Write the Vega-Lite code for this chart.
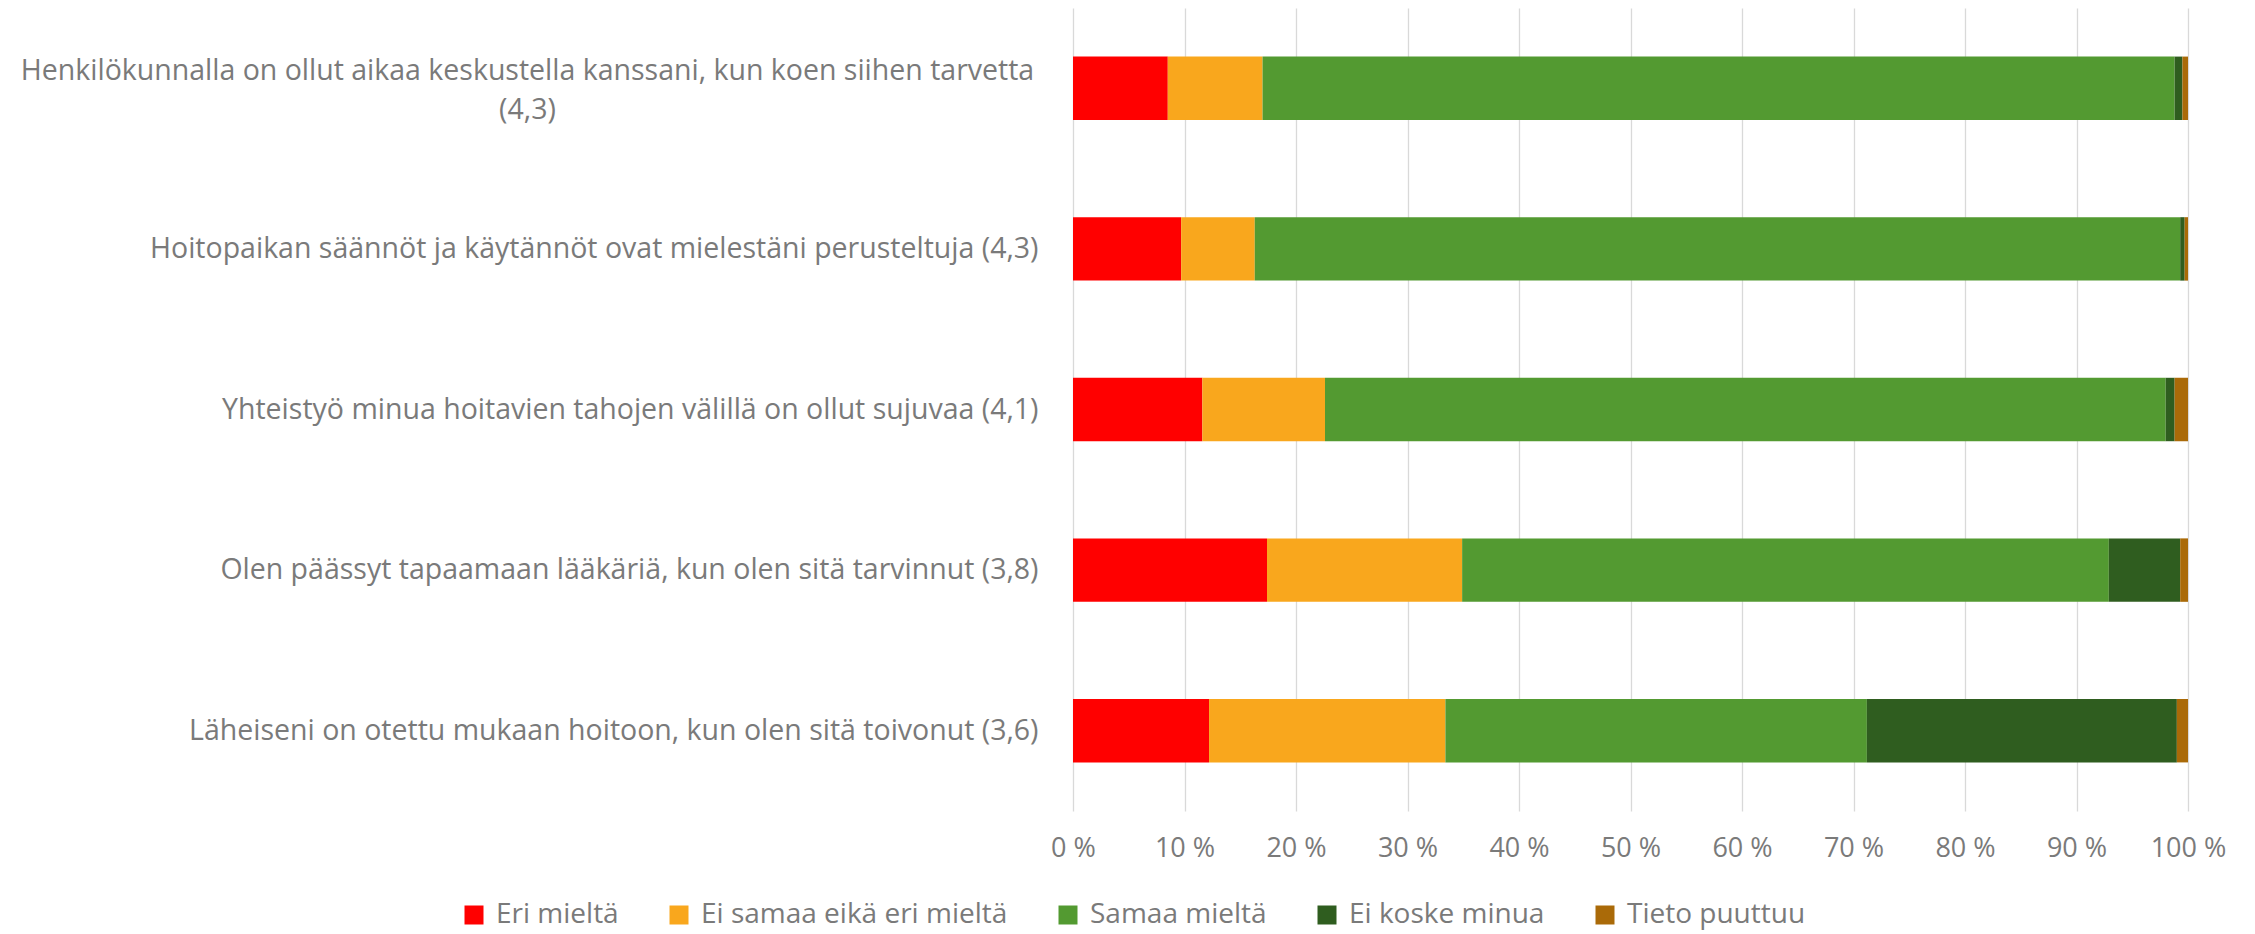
{
  "$schema": "https://vega.github.io/schema/vega-lite/v6.json",
  "width": 1115,
  "height": 803,
  "autosize": {"type": "none"},
  "padding": {"left": 1073, "top": 8, "right": 67, "bottom": 123},
  "background": "white",
  "config": {
    "view": {"stroke": null},
    "font": "Open Sans"
  },
  "data": {
    "values": [
      {"q": "Henkilökunnalla on ollut aikaa keskustella kanssani, kun koen siihen tarvetta (4,3)", "c": "Eri mieltä", "v": 8.5},
      {"q": "Henkilökunnalla on ollut aikaa keskustella kanssani, kun koen siihen tarvetta (4,3)", "c": "Ei samaa eikä eri mieltä", "v": 8.5},
      {"q": "Henkilökunnalla on ollut aikaa keskustella kanssani, kun koen siihen tarvetta (4,3)", "c": "Samaa mieltä", "v": 81.8},
      {"q": "Henkilökunnalla on ollut aikaa keskustella kanssani, kun koen siihen tarvetta (4,3)", "c": "Ei koske minua", "v": 0.7},
      {"q": "Henkilökunnalla on ollut aikaa keskustella kanssani, kun koen siihen tarvetta (4,3)", "c": "Tieto puuttuu", "v": 0.5},
      {"q": "Hoitopaikan säännöt ja käytännöt ovat mielestäni perusteltuja (4,3)", "c": "Eri mieltä", "v": 9.7},
      {"q": "Hoitopaikan säännöt ja käytännöt ovat mielestäni perusteltuja (4,3)", "c": "Ei samaa eikä eri mieltä", "v": 6.6},
      {"q": "Hoitopaikan säännöt ja käytännöt ovat mielestäni perusteltuja (4,3)", "c": "Samaa mieltä", "v": 83.0},
      {"q": "Hoitopaikan säännöt ja käytännöt ovat mielestäni perusteltuja (4,3)", "c": "Ei koske minua", "v": 0.4},
      {"q": "Hoitopaikan säännöt ja käytännöt ovat mielestäni perusteltuja (4,3)", "c": "Tieto puuttuu", "v": 0.3},
      {"q": "Yhteistyö minua hoitavien tahojen välillä on ollut sujuvaa (4,1)", "c": "Eri mieltä", "v": 11.6},
      {"q": "Yhteistyö minua hoitavien tahojen välillä on ollut sujuvaa (4,1)", "c": "Ei samaa eikä eri mieltä", "v": 11.0},
      {"q": "Yhteistyö minua hoitavien tahojen välillä on ollut sujuvaa (4,1)", "c": "Samaa mieltä", "v": 75.4},
      {"q": "Yhteistyö minua hoitavien tahojen välillä on ollut sujuvaa (4,1)", "c": "Ei koske minua", "v": 0.8},
      {"q": "Yhteistyö minua hoitavien tahojen välillä on ollut sujuvaa (4,1)", "c": "Tieto puuttuu", "v": 1.2},
      {"q": "Olen päässyt tapaamaan lääkäriä, kun olen sitä tarvinnut (3,8)", "c": "Eri mieltä", "v": 17.4},
      {"q": "Olen päässyt tapaamaan lääkäriä, kun olen sitä tarvinnut (3,8)", "c": "Ei samaa eikä eri mieltä", "v": 17.5},
      {"q": "Olen päässyt tapaamaan lääkäriä, kun olen sitä tarvinnut (3,8)", "c": "Samaa mieltä", "v": 58.0},
      {"q": "Olen päässyt tapaamaan lääkäriä, kun olen sitä tarvinnut (3,8)", "c": "Ei koske minua", "v": 6.4},
      {"q": "Olen päässyt tapaamaan lääkäriä, kun olen sitä tarvinnut (3,8)", "c": "Tieto puuttuu", "v": 0.7},
      {"q": "Läheiseni on otettu mukaan hoitoon, kun olen sitä toivonut (3,6)", "c": "Eri mieltä", "v": 12.2},
      {"q": "Läheiseni on otettu mukaan hoitoon, kun olen sitä toivonut (3,6)", "c": "Ei samaa eikä eri mieltä", "v": 21.2},
      {"q": "Läheiseni on otettu mukaan hoitoon, kun olen sitä toivonut (3,6)", "c": "Samaa mieltä", "v": 37.8},
      {"q": "Läheiseni on otettu mukaan hoitoon, kun olen sitä toivonut (3,6)", "c": "Ei koske minua", "v": 27.8},
      {"q": "Läheiseni on otettu mukaan hoitoon, kun olen sitä toivonut (3,6)", "c": "Tieto puuttuu", "v": 1.0}
    ]
  },
  "transform": [
    {"calculate": "indexof(['Eri mieltä', 'Ei samaa eikä eri mieltä', 'Samaa mieltä', 'Ei koske minua', 'Tieto puuttuu'], datum.c)", "as": "k"}
  ],
  "mark": {"type": "bar", "strokeWidth": 0},
  "encoding": {
    "y": {
      "field": "q",
      "type": "nominal",
      "sort": null,
      "title": null,
      "scale": {"paddingInner": 0.605, "paddingOuter": 0.3025},
      "axis": {
        "domain": false,
        "ticks": false,
        "labelFontSize": 28.5,
        "labelColor": "#7a7a7a",
        "labelLimit": 0,
        "labelLineHeight": 39,
        "labelExpr": "length(datum.label) > 75 ? [slice(datum.label, 0, length(datum.label) - 6), slice(datum.label, length(datum.label) - 5)] : datum.label",
        "labelAlign": {"condition": {"test": "length(datum.label) > 75", "value": "center"}, "value": "right"},
        "labelPadding": {"condition": {"test": "length(datum.label) > 75", "value": 546}, "value": 35},
        "labelOffset": {"condition": {"test": "length(datum.label) > 75", "value": -17}, "value": 0}
      }
    },
    "x": {
      "field": "v",
      "type": "quantitative",
      "stack": "zero",
      "title": null,
      "scale": {"domain": [0, 100], "nice": false},
      "axis": {
        "values": [0, 10, 20, 30, 40, 50, 60, 70, 80, 90, 100],
        "domain": false,
        "ticks": false,
        "grid": true,
        "gridColor": "#d9d9d9",
        "gridWidth": 1.3,
        "labelFontSize": 27,
        "labelColor": "#7a7a7a",
        "labelPadding": 24,
        "labelExpr": "datum.value + ' %'",
        "labelFlush": false
      }
    },
    "color": {
      "field": "c",
      "type": "nominal",
      "sort": ["Eri mieltä", "Ei samaa eikä eri mieltä", "Samaa mieltä", "Ei koske minua", "Tieto puuttuu"],
      "scale": {
        "domain": ["Eri mieltä", "Ei samaa eikä eri mieltä", "Samaa mieltä", "Ei koske minua", "Tieto puuttuu"],
        "range": ["#ff0000", "#f9a71d", "#539a31", "#2f5d1f", "#aa6a08"]
      },
      "legend": {
        "title": null,
        "orient": "none",
        "direction": "horizontal",
        "legendX": -613,
        "legendY": 893,
        "symbolType": "square",
        "symbolSize": 361,
        "symbolStrokeWidth": 0,
        "labelFontSize": 28,
        "labelColor": "#7a7a7a",
        "labelOffset": 8,
        "columnPadding": 46,
        "labelLimit": 0
      }
    },
    "order": {"field": "k", "type": "quantitative", "sort": "ascending"}
  }
}
